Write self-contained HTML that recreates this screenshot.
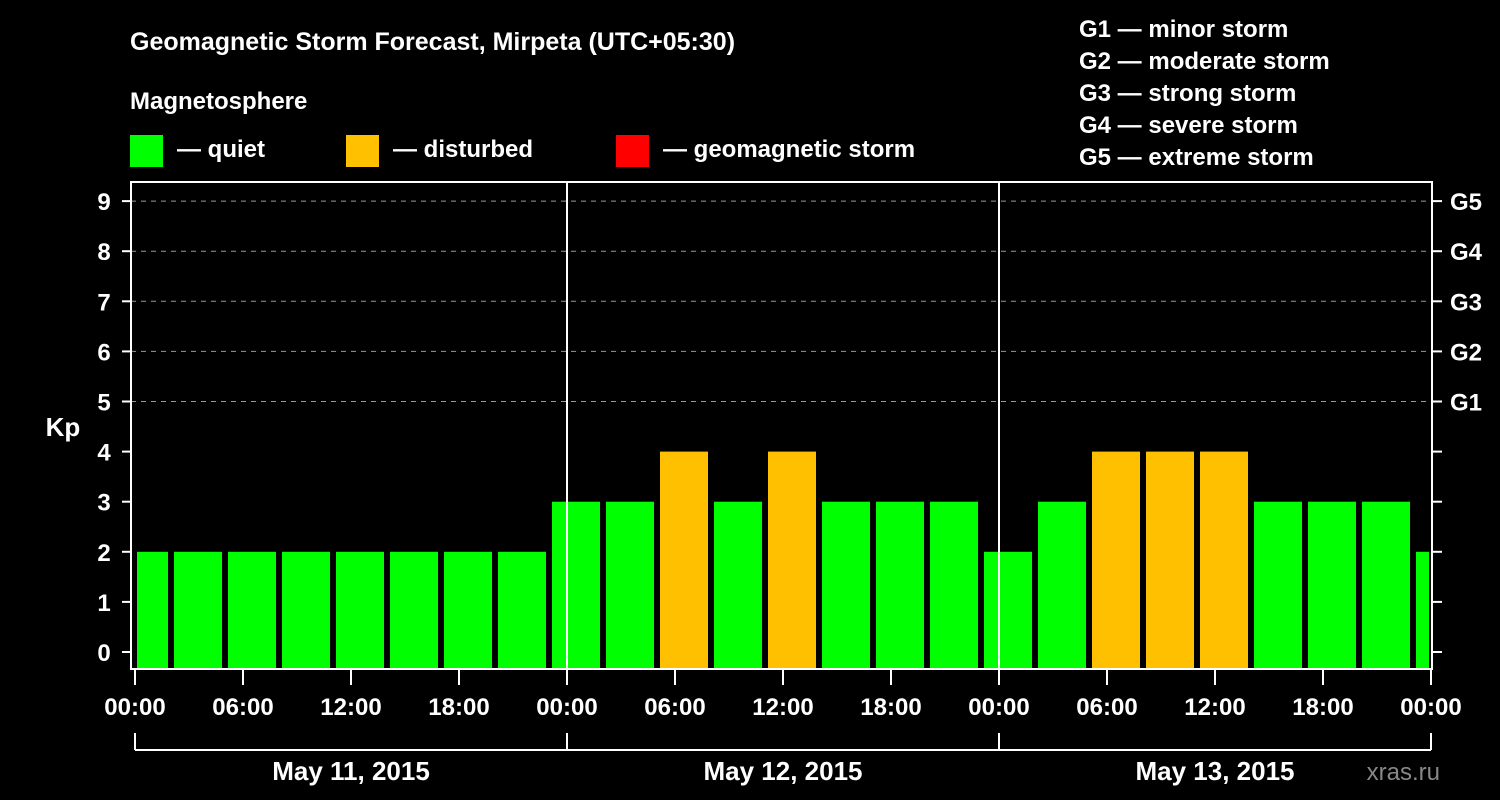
<!DOCTYPE html>
<html><head><meta charset="utf-8"><style>
body{margin:0;background:#000;}
svg{display:block;font-family:"Liberation Sans",Arial,sans-serif;font-weight:bold;}
</style></head><body>
<svg width="1500" height="800" xmlns="http://www.w3.org/2000/svg">
<rect width="1500" height="800" fill="#000"/>
<text x="130" y="50" fill="#fff" font-size="25">Geomagnetic Storm Forecast, Mirpeta (UTC+05:30)</text>
<text x="130" y="109" fill="#fff" font-size="24">Magnetosphere</text>
<g><rect x="130" y="135" width="33" height="32" fill="#00ff00"/><text x="177" y="157" fill="#fff" font-size="24">— quiet</text></g>
<g><rect x="346" y="135" width="33" height="32" fill="#ffc000"/><text x="393" y="157" fill="#fff" font-size="24">— disturbed</text></g>
<g><rect x="616" y="135" width="33" height="32" fill="#ff0000"/><text x="663" y="157" fill="#fff" font-size="24">— geomagnetic storm</text></g>
<g fill="#fff" font-size="24">
<text x="1079" y="37">G1 — minor storm</text>
<text x="1079" y="69">G2 — moderate storm</text>
<text x="1079" y="101">G3 — strong storm</text>
<text x="1079" y="133">G4 — severe storm</text>
<text x="1079" y="165">G5 — extreme storm</text>
</g>
<text x="63" y="436" fill="#fff" font-size="26" text-anchor="middle">Kp</text>
<text x="1440" y="780" fill="#888" font-size="24" text-anchor="end" font-weight="normal">xras.ru</text>
<g id="grid"></g><g id="bars"></g><g id="axes"></g>
</svg>
<script>
const kpValues=[2,2,2,2,2,2,2,2,3,3,4,3,4,3,3,3,2,3,4,4,4,3,3,3,2];
const yTicks=[0,1,2,3,4,5,6,7,8,9];
const gLabels=["","","","","","G1","G2","G3","G4","G5"];
const xTickLabels=["00:00","06:00","12:00","18:00","00:00","06:00","12:00","18:00","00:00","06:00","12:00","18:00","00:00"];
const dayLabels=["May 11, 2015","May 12, 2015","May 13, 2015"];
const NS="http://www.w3.org/2000/svg";
const L=131,R=1432,T=182,B=669,X0=135,HOUR=18;
const y=v=>652-v*50.1;
const xh=h=>X0+h*HOUR;
function mk(p,t,a){const e=document.createElementNS(NS,t);for(const k in a)e.setAttribute(k,a[k]);p.appendChild(e);return e;}
const grid=document.getElementById('grid'),bars=document.getElementById('bars'),axes=document.getElementById('axes');
yTicks.forEach(v=>{if(v>=5){const l=mk(grid,'line',{x1:L,x2:R,y1:y(v),y2:y(v),stroke:'#999','stroke-dasharray':'5,5','stroke-width':1});

}});
kpValues.forEach((v,i)=>{let x1=xh(-0.833+3*i),x2=x1+48;x1=Math.max(x1,X0+2);x2=Math.min(x2,1429);
const c=v>=5?'#ff0000':(v>=4?'#ffc000':'#00ff00');
const r=mk(bars,'rect',{x:x1,y:y(v),width:x2-x1,height:B-y(v),fill:c});

});
// frame and dividers
mk(axes,'rect',{x:L,y:T,width:R-L,height:B-T,fill:'none',stroke:'#fff','stroke-width':2});
[24,48].forEach(h=>{const l=mk(axes,'line',{x1:xh(h),x2:xh(h),y1:T,y2:B,stroke:'#fff','stroke-width':2});

});
yTicks.forEach((v,i)=>{mk(axes,'line',{x1:122,x2:L,y1:y(v),y2:y(v),stroke:'#fff','stroke-width':2});
mk(axes,'line',{x1:R,x2:1442,y1:y(v),y2:y(v),stroke:'#fff','stroke-width':2});
const t=mk(axes,'text',{x:104,y:y(v)+9,fill:'#fff','font-size':24,'text-anchor':'middle'});t.textContent=v;


if(gLabels[i]){const g=mk(axes,'text',{x:1450,y:y(v)+9,fill:'#fff','font-size':24});g.textContent=gLabels[i];

}});
xTickLabels.forEach((s,i)=>{const x=xh(i*6);mk(axes,'line',{x1:x,x2:x,y1:B,y2:685,stroke:'#fff','stroke-width':2});
const t=mk(axes,'text',{x:x,y:715,fill:'#fff','font-size':24,'text-anchor':'middle'});t.textContent=s;

});
mk(axes,'line',{x1:xh(0),x2:xh(72),y1:750,y2:750,stroke:'#fff','stroke-width':2});
[0,24,48,72].forEach(h=>mk(axes,'line',{x1:xh(h),x2:xh(h),y1:733,y2:750,stroke:'#fff','stroke-width':2}));
dayLabels.forEach((s,i)=>{const t=mk(axes,'text',{x:xh(i*24+12),y:780,fill:'#fff','font-size':26,'text-anchor':'middle'});t.textContent=s;

});
</script>
</body></html>
